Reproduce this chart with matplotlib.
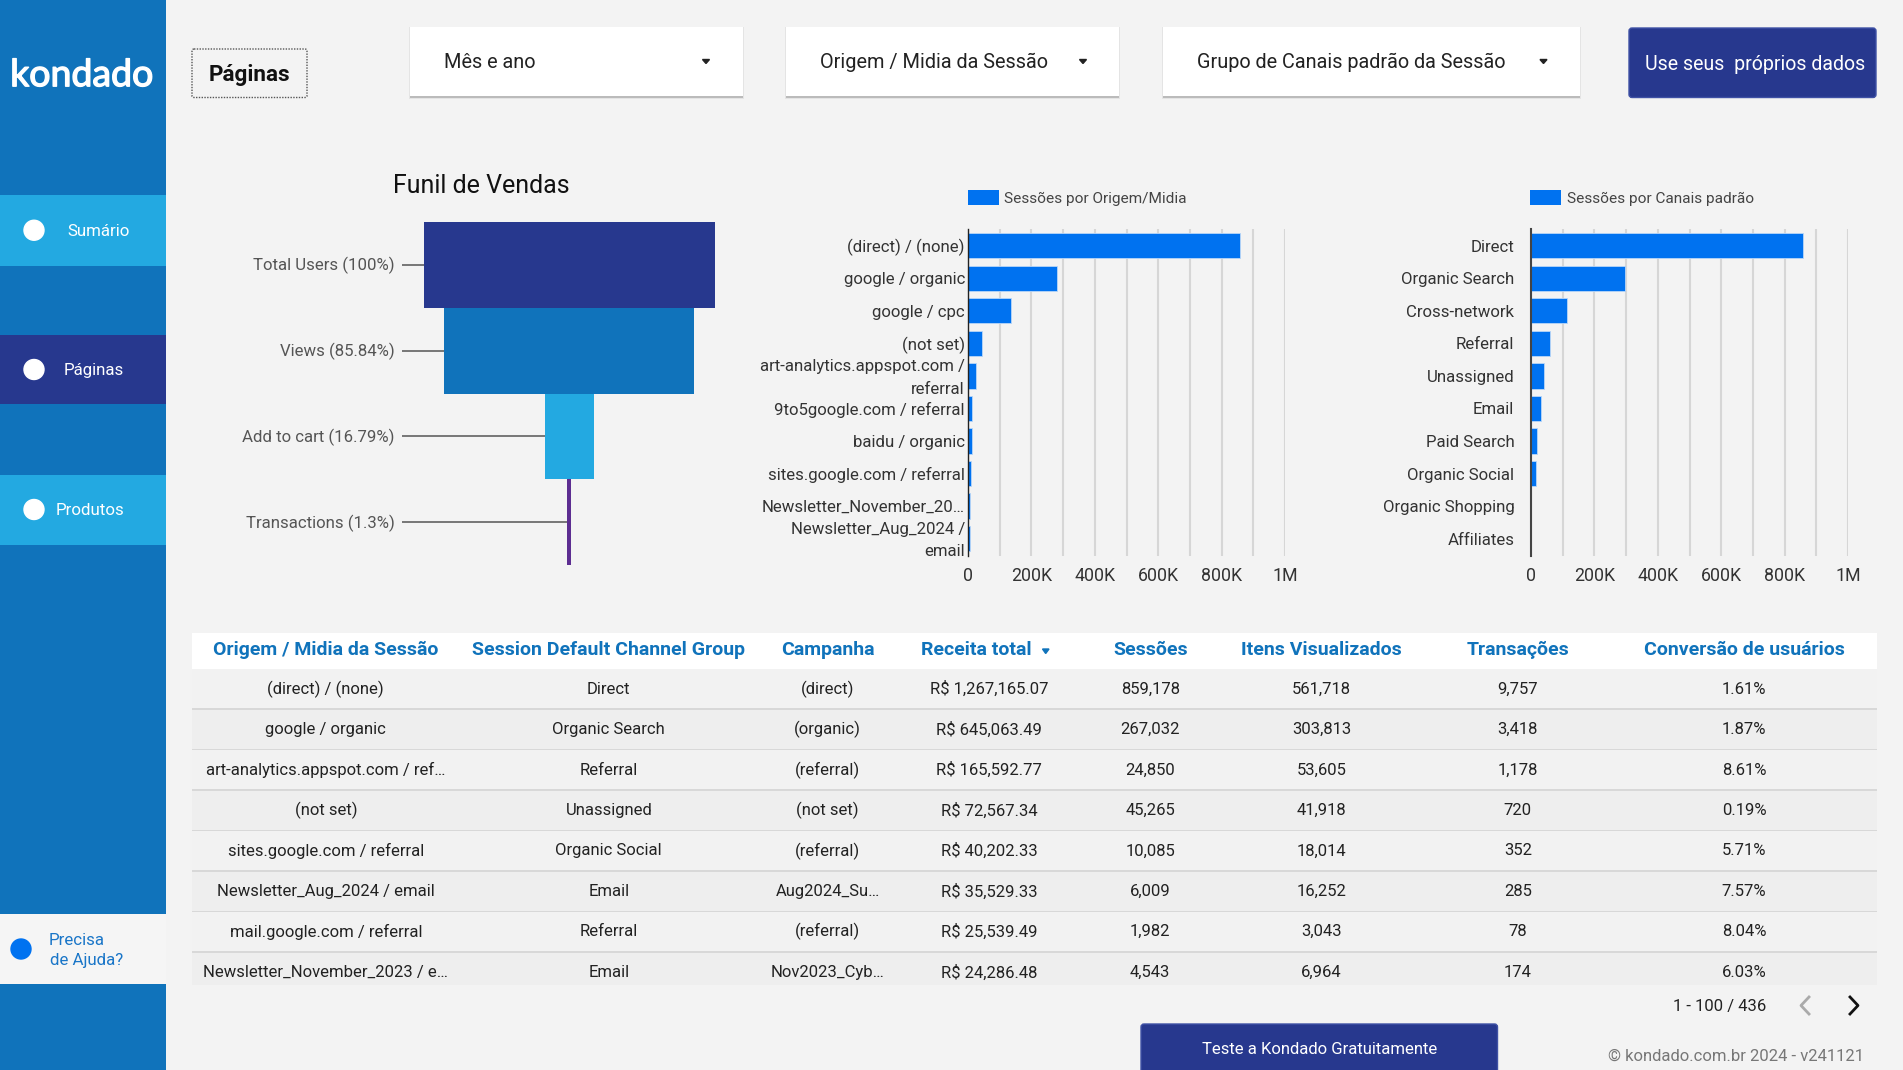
import matplotlib
matplotlib.use("Agg")
import matplotlib.pyplot as plt
import matplotlib.patheffects as pe
from matplotlib.patches import Rectangle, FancyBboxPatch, Circle, Polygon
from matplotlib.ticker import FuncFormatter
from matplotlib.transforms import ScaledTranslation

plt.rcParams['font.family'] = ['Roboto', 'DejaVu Sans']

W, H = 1903, 1070

funnel_labels = ["Total Users (100%)", "Views (85.84%)", "Add to cart (16.79%)", "Transactions (1.3%)"]
funnel_values = [100, 85.84, 16.79, 1.3]
funnel_colors = ["#27388e", "#1073bb", "#23a9e1", "#5c2d91"]

origem_labels = ["(direct) / (none)", "google / organic", "google / cpc", "(not set)",
                 "art-analytics.appspot.com /\nreferral", "9to5google.com / referral",
                 "baidu / organic", "sites.google.com / referral",
                 "Newsletter_November_20…", "Newsletter_Aug_2024 /\nemail"]
origem_values = [859178, 280000, 135000, 45265, 24850, 12000, 11500, 10085, 6000, 6009]

canais_labels = ["Direct", "Organic Search", "Cross-network", "Referral", "Unassigned",
                 "Email", "Paid Search", "Organic Social", "Organic Shopping", "Affiliates"]
canais_values = [859178, 298000, 112000, 59000, 42000, 33000, 19000, 14500, 1200, 600]

table_header = ["Origem / Midia da Sessão", "Session Default Channel Group", "Campanha", "Receita total",
                "Sessões", "Itens Visualizados", "Transações", "Conversão de usuários"]
col_origem = ["(direct) / (none)", "google / organic", "art-analytics.appspot.com / ref…", "(not set)",
              "sites.google.com / referral", "Newsletter_Aug_2024 / email", "mail.google.com / referral",
              "Newsletter_November_2023 / e…"]
col_canal = ["Direct", "Organic Search", "Referral", "Unassigned", "Organic Social", "Email", "Referral", "Email"]
col_campanha = ["(direct)", "(organic)", "(referral)", "(not set)", "(referral)", "Aug2024_Su…", "(referral)", "Nov2023_Cyb…"]
col_receita = ["R$ 1,267,165.07", "R$ 645,063.49", "R$ 165,592.77", "R$ 72,567.34",
               "R$ 40,202.33", "R$ 35,529.33", "R$ 25,539.49", "R$ 24,286.48"]
col_sessoes = ["859,178", "267,032", "24,850", "45,265", "10,085", "6,009", "1,982", "4,543"]
col_itens = ["561,718", "303,813", "53,605", "41,918", "18,014", "16,252", "3,043", "6,964"]
col_transacoes = ["9,757", "3,418", "1,178", "720", "352", "285", "78", "174"]
col_conversao = ["1.61%", "1.87%", "8.61%", "0.19%", "5.71%", "7.57%", "8.04%", "6.03%"]

NAVY = "#27388e"
BLUE = "#1073bb"
LIGHT = "#23a9e1"
BAR = "#0072f0"
BG = "#f3f3f3"

fig = plt.figure(figsize=(W / 100, H / 100), dpi=100, facecolor=BG)

# page furniture in pixel coordinates
page = fig.add_axes([0, 0, 1, 1])
page.set_xlim(0, W)
page.set_ylim(H, 0)
page.axis("off")


def box(x0, y0, x1, y1, color, z=1, **kw):
    page.add_patch(Rectangle((x0, y0), x1 - x0, y1 - y0, facecolor=color, edgecolor="none", zorder=z, **kw))


def label(x, y, s, size, color="#222222", ha="center", weight="normal", **kw):
    return page.text(x, y + 1.2, s, fontsize=size, color=color, ha=ha, va="center", fontweight=weight, zorder=6, **kw)


def ax_px(x0, y0, x1, y1):
    return fig.add_axes([x0 / W, 1 - y1 / H, (x1 - x0) / W, (y1 - y0) / H], facecolor="none")


# sidebar
box(0, 0, 166, H, BLUE)
logo = label(82, 74, "kondado", 27, color="white", family="Lato")
logo.set_path_effects([pe.withStroke(linewidth=1.0, foreground="white")])
for y0, y1, c, name, tx in [(195, 265.5, LIGHT, "Sumário", 99), (335, 404, NAVY, "Páginas", 94), (474.5, 544.5, LIGHT, "Produtos", 90)]:
    box(0, y0, 166, y1, c, z=2)
    page.add_patch(Circle((34, (y0 + y1) / 2), 10, color="white", zorder=3))
    label(tx, (y0 + y1) / 2, name, 12.2, color="white")
box(0, 914, 166, 984, "#f5f5f5", z=2)
page.add_patch(Circle((21, 949), 10, color=BAR, zorder=3))
label(49, 939, "Precisa", 12.2, color="#1a76c8", ha="left")
label(50.5, 959, "de Ajuda?", 12.2, color="#1a76c8", ha="left")

# top controls
page.add_patch(FancyBboxPatch((192, 49), 115, 48.5, boxstyle="round,pad=0,rounding_size=2", facecolor=BG,
                              edgecolor="#555555", linewidth=1, linestyle=(0, (1, 1)), zorder=2))
label(249.5, 74, "Páginas", 16.2, color="#111111", weight="bold")
for x0, x1, tx, arrow, name in [(409.5, 742.5, 443.5, 706, "Mês e ano"),
                                (786, 1119, 820, 1083, "Origem / Midia da Sessão"),
                                (1163, 1580, 1197, 1543.5, "Grupo de Canais padrão da Sessão")]:
    box(x0 - 1, 27, x1 + 1, 99, "#e4e4e4", z=2)
    box(x0, 29, x1, 98, "#bbbbbb", z=2)
    box(x0, 27, x1, 96, "white", z=3)
    label(tx, 61, name, 14.35, color="#222222", ha="left")
    page.add_patch(Polygon([(arrow - 3.5, 59.5), (arrow + 3.5, 59.5), (arrow, 63.5)], color="#222222", zorder=5))
page.add_patch(FancyBboxPatch((1629, 28), 247, 69.5, boxstyle="round,pad=0,rounding_size=3", facecolor=NAVY,
                              edgecolor="#3f51a5", linewidth=1, zorder=2))
label(1755, 63.5, "Use seus  próprios dados", 14.05, color="white")

# funnel
label(481.5, 184.5, "Funil de Vendas", 18, color="#111111")
funnel = ax_px(423.6, 222, 715, 565)
funnel.axis("off")
funnel.set_xlim(-50, 50)
funnel.set_ylim(len(funnel_values) - 0.5, -0.5)
funnel_pos = range(len(funnel_values))
funnel.barh(funnel_pos, funnel_values, left=[-v / 2 for v in funnel_values], height=1.0, color=funnel_colors)
for i, (name, v) in enumerate(zip(funnel_labels, funnel_values)):
    funnel.plot([-57.4, -v / 2], [i, i], color="#555555", lw=1.1, clip_on=False, solid_capstyle="butt")
    funnel.annotate(name, (-60, i), xytext=(0, -0.7), textcoords="offset points", ha="right", va="center",
                    fontsize=12.1, color="#555555", annotation_clip=False)


# session bar charts
def session_chart(x0, x1, names, values, legend, legend_x, legend_x1, axis_color, axis_lw, pad):
    ax = ax_px(x0, 229, x1, 556)
    ax.set_xlim(0, 1000000)
    ax.set_ylim(9.533, -0.513)
    ax.set_axisbelow(True)
    ax.barh(range(len(values)), values, height=0.78, color=BAR, edgecolor="#b9d6f8", linewidth=0.6, zorder=3)
    ax.set_xticks(range(0, 1000001, 200000))
    ax.set_xticks(range(100000, 1000000, 200000), minor=True)
    ax.xaxis.set_major_formatter(FuncFormatter(lambda v, p: "0" if v == 0 else ("1M" if v == 1000000 else f"{int(v / 1000)}K")))
    ax.grid(axis="x", which="both", color="#d6d6d6", lw=1.5)
    ax.set_yticks(range(len(values)))
    ax.set_yticklabels(names, linespacing=1.65)
    ax.tick_params(axis="both", which="both", length=0, colors="#333333")
    ax.tick_params(axis="y", labelsize=12.1, pad=pad)
    ax.tick_params(axis="x", labelsize=12.8, pad=8.2)
    # two-line labels sit a little high in the original
    for t in ax.get_yticklabels():
        if "\n" in t.get_text():
            t.set_transform(t.get_transform() + ScaledTranslation(0, 2.6 / 72, fig.dpi_scale_trans))
    for side in ["top", "right", "bottom"]:
        ax.spines[side].set_visible(False)
    ax.spines["left"].set_color(axis_color)
    ax.spines["left"].set_linewidth(axis_lw)
    ax.spines["left"].set_zorder(4)
    box(legend_x, 190, legend_x + 31, 205, BAR)
    label(legend_x1, 198, legend, 11.1, color="#444444", ha="left")
    return ax


left_chart = session_chart(968, 1285, origem_labels, origem_values, "Sessões por Origem/Midia", 967.7, 1004.5, "#222222", 1.0, 2.2)
right_chart = session_chart(1531, 1848, canais_labels, canais_values, "Sessões por Canais padrão", 1530, 1566.6, "#444444", 1.5, 12)

# table
col_x = [325.8, 608.8, 827.5, 989, 1150.3, 1321.4, 1517.9, 1744]
head_x = [325.8, 608.8, 827.5, 976, 1150.3, 1321.4, 1517.9, 1744]
columns = [col_origem, col_canal, col_campanha, col_receita, col_sessoes, col_itens, col_transacoes, col_conversao]
T_LEFT, T_RIGHT = 191.5, 1876.5
ROW = 40.45
box(T_LEFT, 632.7, T_RIGHT, 668.7, "white")
for x, name in zip(head_x, table_header):
    label(x, 649, name, 14, color=BLUE, weight="bold")
page.add_patch(Polygon([(1042.5, 649), (1049, 649), (1045.7, 653.5)], color=BLUE, zorder=5))
for r in range(len(col_origem)):
    top = 668.7 + r * ROW
    bottom = min(top + ROW, 985.3)
    box(T_LEFT, top, T_RIGHT, bottom, "#eeeeee" if r % 2 else "#f2f2f2")
    if r:
        box(T_LEFT, top - 0.8, T_RIGHT, top + 0.8, "#d8d8d8", z=2)
    for x, col in zip(col_x, columns):
        label(x, top + 19.2, col[r], 12, color="#222222")

# pager and footer
label(1719.5, 1005.7, "1 - 100 / 436", 12, color="#222222")
page.plot([1809, 1801, 1809], [997, 1005.5, 1014], color="#aaaaaa", lw=2, zorder=5)
page.plot([1850, 1858, 1850], [997, 1005.5, 1014], color="#111111", lw=2, zorder=5)
page.add_patch(FancyBboxPatch((1141, 1024), 356.5, 60, boxstyle="round,pad=0,rounding_size=3", facecolor=NAVY,
                              edgecolor="#3f51a5", linewidth=1, zorder=2))
label(1319.5, 1048.5, "Teste a Kondado Gratuitamente", 12, color="white")
label(1864, 1054.7, "© kondado.com.br 2024 - v241121", 12, color="#777777", ha="right")

fig.savefig("out.png", dpi=100, facecolor=BG)
